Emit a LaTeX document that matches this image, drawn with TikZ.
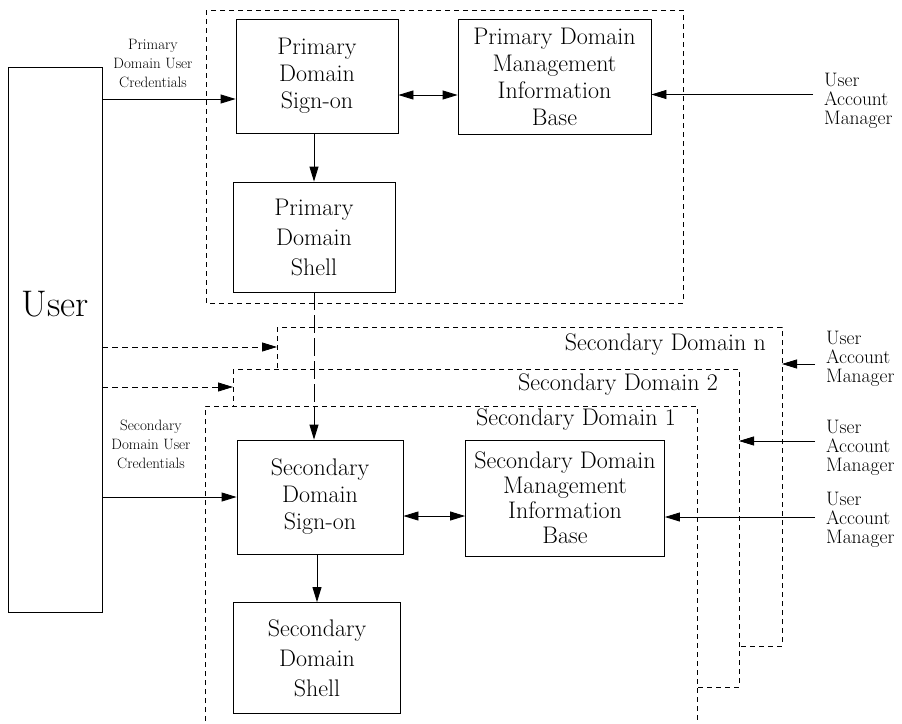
\documentclass[tikz,border=0pt]{standalone}
\usetikzlibrary{arrows.meta,calc}
\begin{document}
\begin{tikzpicture}[x=1pt,y=-1pt,
	>={Triangle[length=15pt,width=9pt]},
	box/.style={draw,line width=0.8pt,align=center,inner sep=0pt,font=\fontsize{24}{27}\selectfont},
	area/.style={draw,line width=0.7pt,dash pattern=on 5pt off 4pt,fill=white},
	small/.style={align=center,inner sep=1pt,font=\fontsize{15}{19}\selectfont},
	uam/.style={anchor=west,align=left,inner ysep=0pt,inner xsep=11pt,font=\fontsize{19.5}{19}\selectfont},
	arealabel/.style={anchor=east,inner sep=2pt,font=\fontsize{24}{28}\selectfont},
	link/.style={->,line width=0.8pt}]
	\useasboundingbox (0,0) rectangle (902,723);
	% primary domain
	\draw [area] (206,10) rectangle (683,303);
	% secondary domains, back to front
	\draw [area] (277,327) rectangle (782,646);
	\draw [area] (233,369) rectangle (739,687);
	\draw [area] (205,730) -- (205,406) -- (697,406) -- (697,730);
	\coordinate (n-in) at (277,347);
	\coordinate (two-in) at (233,387);
	\coordinate (n-east) at (782,364);
	\coordinate (two-east) at (739,441);
	\node [arealabel] (lbln) at (768,345) {Secondary Domain n};
	\node [arealabel] (lbl2) at (720,385) {Secondary Domain 2};
	\node [arealabel] (lbl1) at (678,420) {Secondary Domain 1};

	\node [box,minimum width=94pt,minimum height=545pt] (user) at (55,339.5) {};
	\node [font=\fontsize{37}{40}\selectfont] (usertext) at (55,304) {User};
	\node [box,minimum width=162pt,minimum height=114pt] (psign) at (317,76) {Primary\\Domain\\Sign-on};
	\node [box,minimum width=193pt,minimum height=115pt] (pmib) at (554.5,76.5) {Primary Domain\\Management\\Information\\Base};
	\node [box,minimum width=162pt,minimum height=110pt,font=\fontsize{24}{30}\selectfont] (pshell) at (314,237) {Primary\\Domain\\Shell};
	\node [box,minimum width=166pt,minimum height=114pt] (ssign) at (320,497) {Secondary\\Domain\\Sign-on};
	\node [box,minimum width=199pt,minimum height=116pt,font=\fontsize{24}{25}\selectfont] (smib) at (565,498) {Secondary Domain\\Management\\Information\\Base};
	\node [box,minimum width=167pt,minimum height=111pt,font=\fontsize{24}{30}\selectfont] (sshell) at (317,658) {Secondary\\Domain\\Shell};

	\node [small] (pcred) at (153,63) {Primary\\Domain User\\Credentials};
	\node [small] (scred) at (151,444) {Secondary\\Domain User\\Credentials};
	\node [uam] (uamp) at (813,101) {User\\Account\\Manager};
	\node [uam] (uamn) at (815,359) {User\\Account\\Manager};
	\node [uam] (uam2) at (815,448) {User\\Account\\Manager};
	\node [uam] (uam1) at (815,520) {User\\Account\\Manager};

	% sign-on inputs
	\coordinate (psign-in) at ([yshift=-23pt]psign.west);
	\draw [link] (user.east |- psign-in) -- (psign-in);
	\draw [link] (user.east |- ssign.west) -- (ssign.west);
	\draw [link,dash pattern=on 6pt off 4pt] (user.east |- n-in) -- (n-in);
	\draw [link,dash pattern=on 6pt off 4pt] (user.east |- two-in) -- (two-in);
	% sign-on to shell
	\draw [link] (psign.south -| pshell.north) -- (pshell.north);
	\draw [link] (ssign.south -| sshell.north) -- (sshell.north);
	\draw [link,dash pattern=on 18pt off 5pt] (pshell.south) -- (pshell.south |- ssign.north);
	% sign-on to mib
	\coordinate (psign-out) at ([yshift=-19pt]psign.east);
	\coordinate (ssign-out) at ([yshift=-19pt]ssign.east);
	\draw [<->,line width=0.8pt] (psign-out) -- (psign-out -| pmib.west);
	\draw [<->,line width=0.8pt] (ssign-out) -- (ssign-out -| smib.west);
	% account managers
	\coordinate (pmib-in) at ([yshift=-18pt]pmib.east);
	\coordinate (smib-in) at ([yshift=-19pt]smib.east);
	\draw [link] (pmib-in -| uamp.west) -- (pmib-in);
	\draw [link] (uamn.west |- n-east) -- (n-east);
	\draw [link] (uam2.west |- two-east) -- (two-east);
	\draw [link] (smib-in -| uam1.west) -- (smib-in);
\end{tikzpicture}
\end{document}
